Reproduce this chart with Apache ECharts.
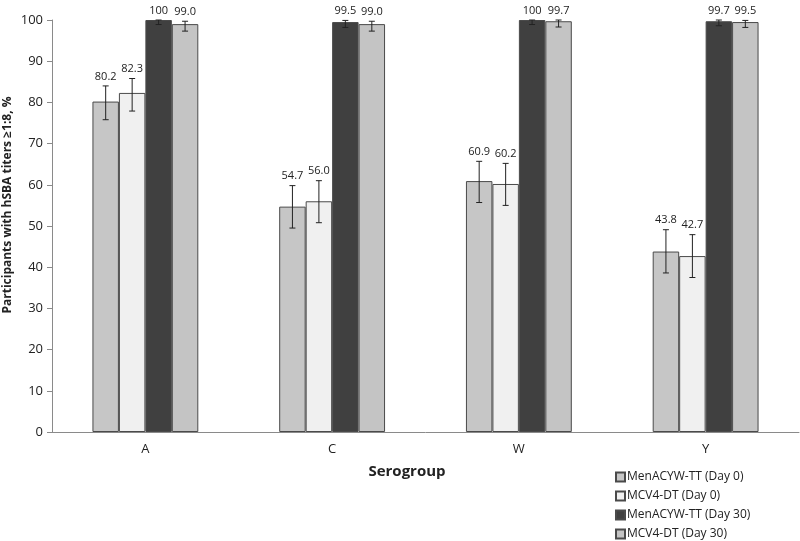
<!DOCTYPE html>
<html>
<head>
<meta charset="utf-8">
<script src="https://cdn.jsdelivr.net/npm/echarts@6/dist/echarts.min.js"></script>
<style>html,body{margin:0;padding:0;background:#fff}#c{width:800px;height:541px}</style>
</head>
<body>
<div id="c"></div>
<script>
const categories = ['A', 'C', 'W', 'Y'];
const seriesNames = ['MenACYW-TT (Day 0)', 'MCV4-DT (Day 0)', 'MenACYW-TT (Day 30)', 'MCV4-DT (Day 30)'];
const menDay0 = [80.2, 54.7, 60.9, 43.8];
const mcvDay0 = [82.3, 56.0, 60.2, 42.7];
const menDay30 = [100, 99.5, 100, 99.7];
const mcvDay30 = [99.0, 99.0, 99.7, 99.5];
const menDay0Low = [75.8, 49.5, 55.7, 38.6];
const menDay0High = [84.0, 59.8, 65.7, 49.1];
const mcvDay0Low = [77.9, 50.8, 55.0, 37.5];
const mcvDay0High = [85.8, 61.0, 65.2, 47.9];
const menDay30Low = [98.9, 98.2, 98.9, 98.6];
const menDay30High = [100, 99.9, 100, 100];
const mcvDay30Low = [97.3, 97.3, 98.3, 98.2];
const mcvDay30High = [99.7, 99.7, 100, 99.9];
const menDay0Labels = ['80.2', '54.7', '60.9', '43.8'];
const mcvDay0Labels = ['82.3', '56.0', '60.2', '42.7'];
const menDay30Labels = ['100', '99.5', '100', '99.7'];
const mcvDay30Labels = ['99.0', '99.0', '99.7', '99.5'];
const yTicks = [0, 10, 20, 30, 40, 50, 60, 70, 80, 90, 100];

const values = [menDay0, mcvDay0, menDay30, mcvDay30];
const lows = [menDay0Low, mcvDay0Low, menDay30Low, mcvDay30Low];
const highs = [menDay0High, mcvDay0High, menDay30High, mcvDay30High];
const labels = [menDay0Labels, mcvDay0Labels, menDay30Labels, mcvDay30Labels];
const colors = ['#c6c6c6', '#f0f0f0', '#404040', '#c4c4c4'];
const BW = 0.1417;
const FONT = '"Open Sans", "Liberation Sans", sans-serif';

const series = [];
values.forEach((v, k) => {
  series.push({
    name: seriesNames[k],
    type: 'bar',
    data: v,
    barWidth: (BW * 100) + '%',
    barGap: '0%',
    itemStyle: { color: colors[k], borderColor: '#4a4a4a', borderWidth: 1 },
    emphasis: { disabled: true },
    z: 2
  });
});
values.forEach((v, k) => {
  series.push({
    type: 'custom',
    data: v.map((val, i) => [i, val, lows[k][i], highs[k][i]]),
    encode: { x: 0, y: [2, 3] },
    z: 5,
    silent: true,
    renderItem: function (params, api) {
      const i = api.value(0);
      const lo = api.coord([i, api.value(2)]);
      const hi = api.coord([i, api.value(3)]);
      const bw = api.size([1, 0])[0] * BW;
      const cx = lo[0] + (k - 1.5) * bw;
      const cap = 3;
      const st = { stroke: '#222', lineWidth: 1 };
      return {
        type: 'group',
        children: [
          { type: 'line', shape: { x1: cx, y1: lo[1], x2: cx, y2: hi[1] }, style: st },
          { type: 'line', shape: { x1: cx - cap, y1: lo[1], x2: cx + cap, y2: lo[1] }, style: st },
          { type: 'line', shape: { x1: cx - cap, y1: hi[1], x2: cx + cap, y2: hi[1] }, style: st },
          { type: 'text', style: { text: labels[k][params.dataIndex], x: cx, y: hi[1] - 4, textAlign: 'center', textVerticalAlign: 'bottom', font: '11px ' + FONT, fill: '#222' } }
        ]
      };
    }
  });
});

const chart = echarts.init(document.getElementById('c'), null, { renderer: 'canvas' });
chart.setOption({
  backgroundColor: '#ffffff',
  animation: false,
  textStyle: { fontFamily: FONT },
  grid: { left: 52, right: 1, top: 20, bottom: 109, containLabel: false, outerBoundsMode: 'none' },
  legend: {
    data: seriesNames,
    orient: 'vertical',
    left: 615,
    top: 470,
    padding: 0,
    itemWidth: 9,
    itemHeight: 9,
    itemGap: 5,
    icon: 'rect',
    textStyle: { fontSize: 12, lineHeight: 14, color: '#222', fontFamily: FONT, padding: [0, 0, 0, -3] }
  },
  xAxis: {
    type: 'category',
    data: categories,
    axisLine: { lineStyle: { color: '#8a8a8a' } },
    axisTick: { show: false },
    axisLabel: { fontSize: 13, color: '#222', margin: 11 }
  },
  yAxis: {
    type: 'value',
    min: yTicks[0],
    max: yTicks[yTicks.length - 1],
    interval: yTicks[1] - yTicks[0],
    axisLine: { show: true, lineStyle: { color: '#8a8a8a' } },
    axisTick: { show: true, length: 5, lineStyle: { color: '#8a8a8a' } },
    axisLabel: { fontSize: 13, color: '#222', margin: 9 },
    splitLine: { show: false }
  },
  graphic: [{
    type: 'text',
    x: 8,
    y: 205,
    rotation: Math.PI / 2,
    style: { text: 'Participants with hSBA titers \u22651:8, %', font: 'bold 12px ' + FONT, fill: '#222', textAlign: 'center', textVerticalAlign: 'middle' }
  }, {
    type: 'text',
    x: 407,
    y: 472,
    style: { text: 'Serogroup', font: 'bold 15px ' + FONT, fill: '#222', textAlign: 'center', textVerticalAlign: 'middle' }
  }],
  series: series
});
</script>
</body>
</html>
